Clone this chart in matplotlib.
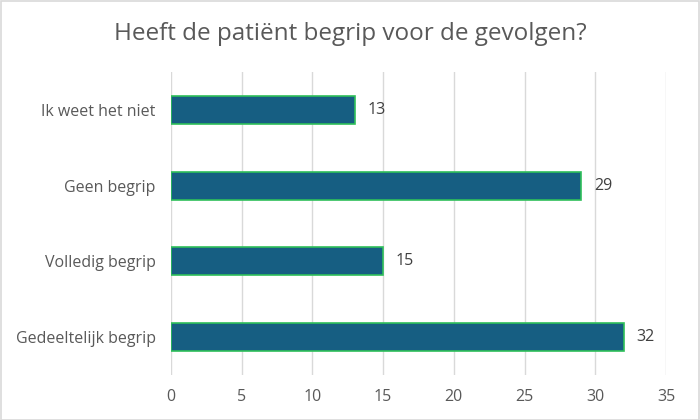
import matplotlib.pyplot as plt
from matplotlib.patches import Rectangle

plt.rcParams['font.family'] = ['Open Sans', 'DejaVu Sans']

categories = ['Gedeeltelijk begrip', 'Volledig begrip', 'Geen begrip', 'Ik weet het niet']
values = [32, 15, 29, 13]
xticks = [0, 5, 10, 15, 20, 25, 30, 35]

textcol = '#595959'

fig = plt.figure(figsize=(7, 4.2), dpi=100)
ax = fig.add_axes([0.2443, 0.1071, 0.7071, 0.7215])

bars = ax.barh(categories, values, height=0.37, color='#165e82', edgecolor='#2fbf5a', linewidth=1.2, zorder=3)
for b, v in zip(bars, values):
    ax.text(v + 0.9, b.get_y() + b.get_height() / 2, str(v), va='center', ha='left',
            fontsize=11.5, color='#404040')

ax.set_xlim(0, 35)
ax.set_ylim(-0.5, len(categories) - 0.5)
ax.set_xticks(xticks)
ax.grid(axis='x', color='#d9d9d9', linewidth=1, zorder=0)
for s in ax.spines.values():
    s.set_visible(False)
ax.tick_params(axis='both', length=0, colors=textcol, labelsize=11.5)
ax.tick_params(axis='x', pad=10)
ax.tick_params(axis='y', pad=11)

fig.text(0.5, 0.92, 'Heeft de patiënt begrip voor de gevolgen?', ha='center', va='center',
         fontsize=17.5, color=textcol)

fig.patches.append(Rectangle((0.001, 0.001), 0.997, 0.997, transform=fig.transFigure,
                             fill=False, edgecolor='#d9d9d9', linewidth=1.2))

fig.savefig('out.png', dpi=100)
